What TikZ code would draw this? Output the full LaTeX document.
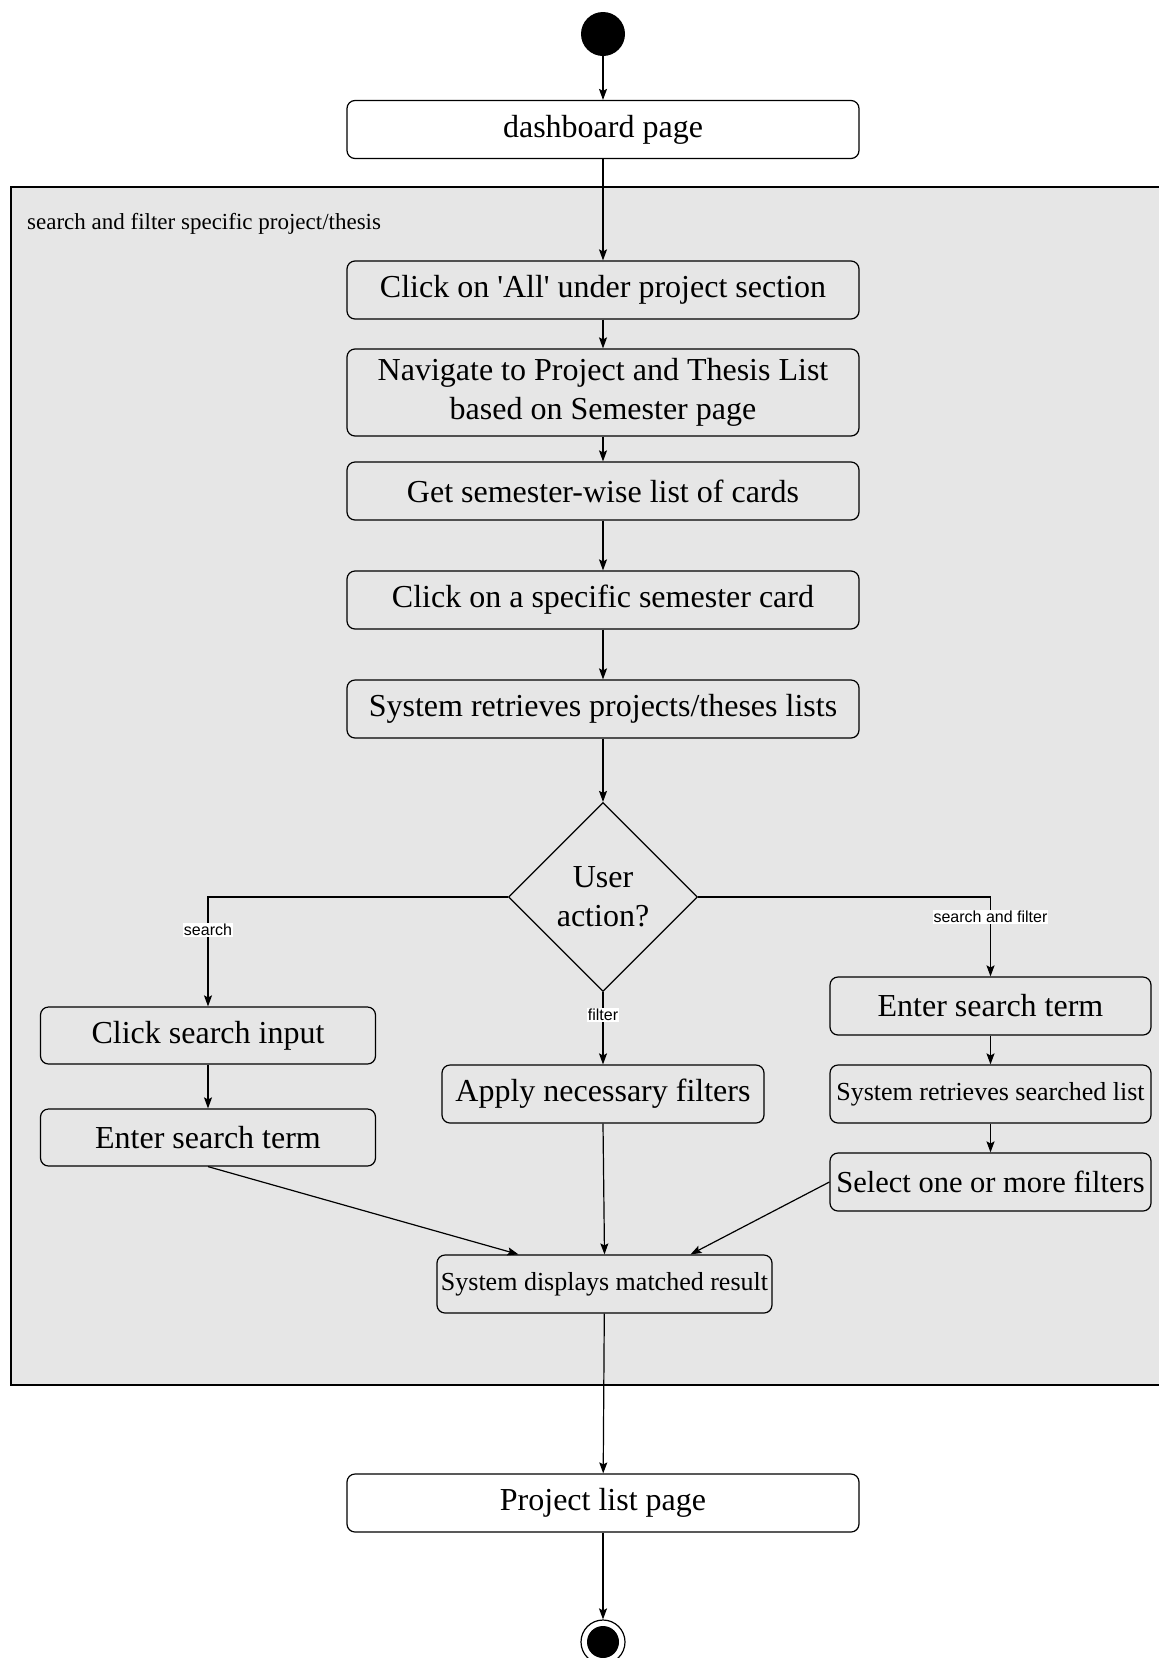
\documentclass[tikz,border=0pt]{standalone}
\usepackage{fontspec}
\setmainfont{Liberation Serif}
\newfontfamily\lblfont{Liberation Sans}
\usetikzlibrary{shapes.geometric,arrows.meta}

\definecolor{groupgray}{HTML}{E6E6E6}

\tikzset{
  actbox/.style={draw, rounded corners=8pt, line width=1.2pt, minimum width=512pt,
    minimum height=58pt, inner sep=0pt, align=center, font=\fontsize{32}{39}\selectfont},
  flow/.style={-{Stealth[length=11pt,width=8pt,inset=2pt]}, line width=1.2pt},
  lbl/.style={fill=white, inner sep=1pt, font=\lblfont\fontsize{16}{18}\selectfont},
}

\begin{document}
\begin{tikzpicture}[x=1pt,y=-1pt]
\useasboundingbox (0,0) rectangle (1159,1658);
\fill[white] (0,0) rectangle (1159,1658);

% group frame
\draw[fill=groupgray, line width=1.2pt] (11,187) rectangle (1175,1385);
\node[anchor=west, inner sep=0pt, font=\fontsize{23}{27}\selectfont] (grouplabel) at (27,224) {search and filter specific project/thesis};

\node[circle, fill=black, minimum size=44pt, inner sep=0pt] (start) at (603,34) {};
\node[actbox, fill=white] (dashboard) at (603,129.5) {dashboard page};

\node[actbox] (clickall) at (603,290) {Click on \textquotesingle All\textquotesingle{} under project section};
\node[actbox, minimum height=87pt] (navigate) at (603,392.5) {Navigate to Project and Thesis List\\based on Semester page};
\node[actbox] (getcards) at (603,491) {Get semester-wise list of cards};
\node[actbox] (clickcard) at (603,600) {Click on a specific semester card};
\node[actbox] (retrieve) at (603,709) {System retrieves projects/theses lists};

\node[diamond, draw, line width=1.2pt, minimum width=189pt, minimum height=189pt, inner sep=0pt,
  align=center, font=\fontsize{32}{39}\selectfont] (decision) at (603,897) {User\\action?};

% search branch
\node[actbox, minimum width=335pt, minimum height=57pt] (clickinput) at (208,1035.5) {Click search input};
\node[actbox, minimum width=335pt, minimum height=57pt] (enterleft) at (208,1137.5) {Enter search term};

% filter branch
\node[actbox, minimum width=322pt] (applyfilters) at (603,1094) {Apply necessary filters};

% search and filter branch
\node[actbox, minimum width=321pt] (enterright) at (990.5,1006) {Enter search term};
\node[actbox, minimum width=321pt, font=\fontsize{26}{31}\selectfont] (searchedlist) at (990.5,1094) {System retrieves searched list};
\node[actbox, minimum width=321pt, font=\fontsize{30.5}{36}\selectfont] (selectfilters) at (990.5,1182) {Select one or more filters};

\node[actbox, minimum width=335pt, font=\fontsize{26}{31}\selectfont] (result) at (604.5,1284) {System displays matched result};

\node[actbox, fill=white] (projectlist) at (603,1503) {Project list page};
\node[circle, draw, fill=white, line width=1.2pt, minimum size=44pt, inner sep=0pt] (finish) at (603,1642) {};
\fill (finish.center) circle (16pt);

% connectors
\draw[flow] (start) -- (dashboard);
\draw[flow] (dashboard) -- (clickall);
\draw[flow] (clickall) -- (navigate);
\draw[flow] (navigate) -- (getcards);
\draw[flow] (getcards) -- (clickcard);
\draw[flow] (clickcard) -- (retrieve);
\draw[flow] (retrieve) -- (decision);

\draw[flow] (decision.west) -| (clickinput.north)
  node[lbl, pos=0.65] {search};
\draw[flow] (decision.south) -- (applyfilters.north)
  node[lbl, pos=0.32] {filter};
\draw[flow] (decision.east) -| (enterright.north)
  node[lbl, pos=0.625] {search and filter};

\draw[flow] (clickinput) -- (enterleft);
\draw[flow] (enterright) -- (searchedlist);
\draw[flow] (searchedlist) -- (selectfilters);

\draw[flow] (enterleft.south) -- ([xshift=-86pt]result.north);
\draw[flow] (applyfilters.south) -- (result.north);
\draw[flow] (selectfilters.west) -- ([xshift=86pt]result.north);

\draw[flow] (result) -- (projectlist);
\draw[flow] (projectlist) -- (finish);
\end{tikzpicture}
\end{document}
